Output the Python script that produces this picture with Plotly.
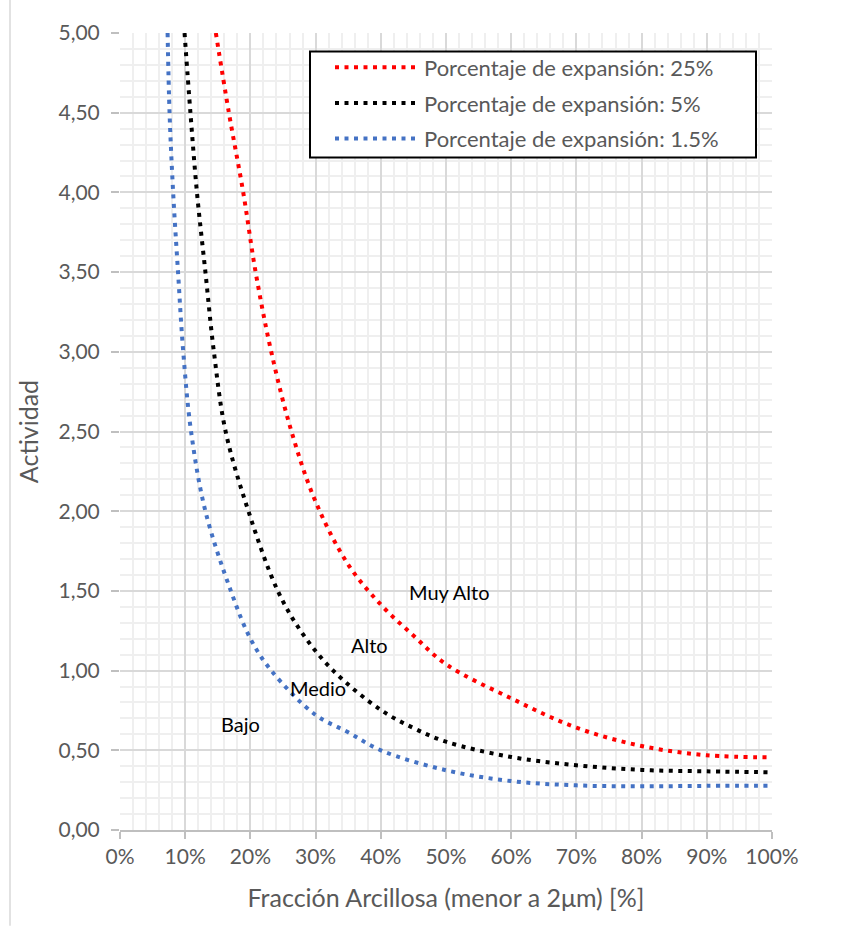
import plotly.graph_objects as go

# Data (x: clay fraction %, y: activity)
red_x = [14.7, 16.7, 18.9, 20.8, 23.2, 26.3, 30.0, 35.0, 40.0, 45.0, 50.0, 60.0, 70.0, 80.0, 90.0, 100.0]
red_y = [5.00, 4.50, 4.00, 3.50, 3.00, 2.50, 2.06, 1.665, 1.414, 1.22, 1.04, 0.826, 0.642, 0.527, 0.469, 0.456]

black_x = [9.9, 10.8, 11.8, 13.1, 14.4, 16.2, 19.7, 24.2, 28.0, 32.7, 40.0, 45.0, 50.0, 60.0, 70.0, 80.0, 90.0, 100.0]
black_y = [5.00, 4.50, 4.00, 3.50, 3.00, 2.50, 2.00, 1.50, 1.232, 1.00, 0.753, 0.64, 0.554, 0.458, 0.406, 0.377, 0.368, 0.362]

blue_x = [7.3, 7.6, 8.15, 8.9, 9.7, 10.9, 13.1, 17.0, 20.0, 23.2, 30.0, 35.0, 40.0, 50.0, 60.0, 70.0, 80.0, 90.0, 100.0]
blue_y = [5.00, 4.50, 4.00, 3.50, 3.00, 2.50, 2.00, 1.50, 1.20, 1.00, 0.722, 0.613, 0.50, 0.375, 0.307, 0.280, 0.274, 0.277, 0.278]

series_names = ["Porcentaje de expansión: 25%", "Porcentaje de expansión: 5%", "Porcentaje de expansión: 1.5%"]
series_colors = ["#FF0000", "#000000", "#4472C4"]

labels = ["Muy Alto", "Alto", "Medio", "Bajo"]
label_x = [50.5, 38.2, 30.4, 18.5]
label_y = [1.49, 1.16, 0.89, 0.665]

x_ticks = list(range(0, 101, 10))
x_tick_text = [f"{v}%" for v in x_ticks]
y_ticks = [i * 0.5 for i in range(11)]

FONT = "Lato, Open Sans, sans-serif"

fig = go.Figure()
for i, (xs, ys, name, col) in enumerate(zip([red_x, black_x, blue_x], [red_y, black_y, blue_y], series_names, series_colors)):
    fig.add_trace(go.Scatter(
        x=xs, y=ys, mode="lines", name=name, legendgroup=f"g{i}",
        line=dict(color=col, width=4, dash="4px,5.5px", shape="spline", smoothing=1.0),
    ))

for t, xv, yv in zip(labels, label_x, label_y):
    fig.add_annotation(x=xv, y=yv, text=t, showarrow=False,
                       font=dict(family=FONT, size=20, color="#000000"))

axis_font = dict(family=FONT, size=21, color="#595959")

# legend frame (drawn as a shape so it can be wider than the text)
PW, PH = 652, 796.5
fig.add_shape(type="rect", xref="paper", yref="paper",
              x0=(310 - 120) / PW, x1=(756 - 120) / PW,
              y0=(830 - 158) / PH, y1=(830 - 52) / PH,
              line=dict(color="#000000", width=2), fillcolor="white", layer="above")

fig.update_layout(
    width=842, height=926,
    margin=dict(l=120, r=70, t=33, b=96),
    paper_bgcolor="white", plot_bgcolor="white",
    separators=",.",
    showlegend=True,
    legend=dict(
        x=(330 - 120) / PW, y=(830 - 47) / PH, xanchor="left", yanchor="top",
        borderwidth=0, bgcolor="rgba(0,0,0,0)",
        font=dict(family=FONT, size=22, color="#595959"),
        itemwidth=84, tracegroupgap=4,
    ),
    xaxis=dict(
        range=[0, 100], tickvals=x_ticks, ticktext=x_tick_text,
        showgrid=True, gridcolor="#D9D9D9", gridwidth=1.5,
        minor=dict(dtick=2, showgrid=True, gridcolor="#EFEFEF", gridwidth=1.5),
        showline=True, linecolor="#BFBFBF", linewidth=2,
        ticks="outside", ticklen=7, tickcolor="#BFBFBF", tickwidth=1.5,
        tickfont=axis_font, zeroline=False,
        title=dict(text="Fracción Arcillosa (menor a 2μm) [%]",
                   font=dict(family=FONT, size=25, color="#595959"),
                   standoff=22),
    ),
    yaxis=dict(
        range=[0, 5], tickvals=y_ticks, tickformat=".2f",
        showgrid=True, gridcolor="#D9D9D9", gridwidth=1.5,
        minor=dict(dtick=0.1, showgrid=True, gridcolor="#EFEFEF", gridwidth=1.5),
        showline=False,
        ticks="outside", ticklen=8, tickcolor="#BFBFBF", tickwidth=1.5,
        tickfont=axis_font, zeroline=False, ticklabelstandoff=7,
        title=dict(text="Actividad",
                   font=dict(family=FONT, size=25, color="#595959"),
                   standoff=12),
    ),
)

# faint outer chart border on the left edge
fig.add_shape(type="line", xref="paper", yref="paper",
              x0=(10 - 120) / PW, x1=(10 - 120) / PW, y0=-0.12, y1=1.05,
              line=dict(color="#D9D9D9", width=1.5))

fig.write_html("out.html")
